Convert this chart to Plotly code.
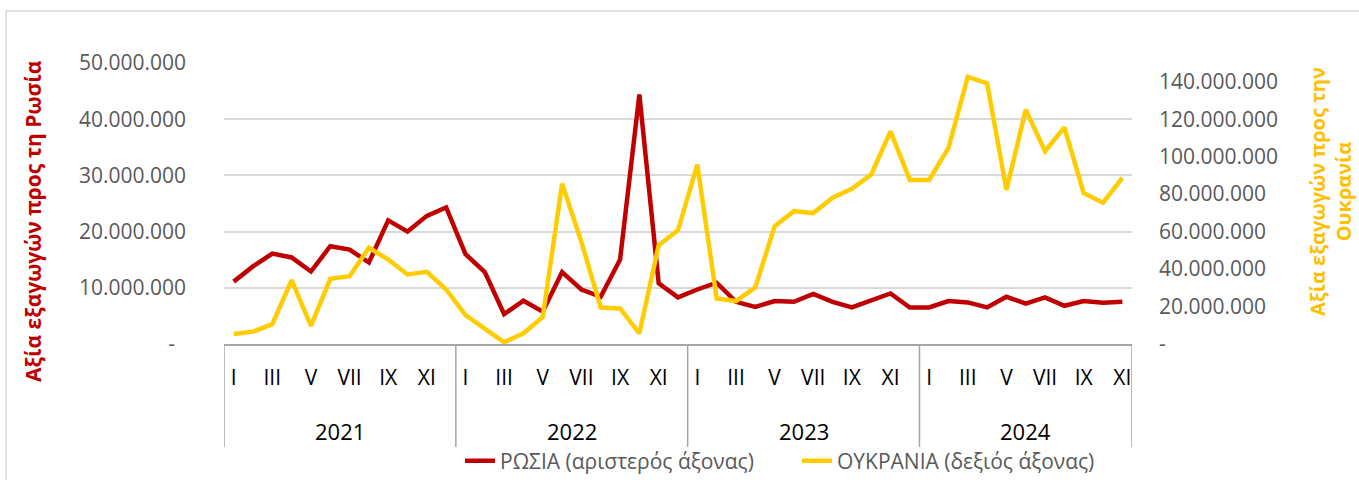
import plotly.graph_objects as go

# ---------------- data ----------------
years = ["2021", "2022", "2023", "2024"]
months_per_year = [12, 12, 12, 11]
month_names = ["I", "II", "III", "IV", "V", "VI", "VII", "VIII", "IX", "X", "XI", "XII"]

# Exports to Russia (EUR), left axis
russia = [11.1, 13.8, 16.1, 15.4, 12.9, 17.4, 16.8, 14.5, 22.0, 20.0, 22.8, 24.3,
          16.0, 12.8, 5.3, 7.7, 5.75, 12.8, 9.7, 8.4, 15.0, 44.4, 10.8, 8.3,
          9.7, 10.9, 7.5, 6.6, 7.65, 7.5, 8.9, 7.5, 6.5, 7.7, 9.0, 6.5,
          6.5, 7.65, 7.4, 6.5, 8.4, 7.2, 8.3, 6.8, 7.65, 7.35, 7.5]
# Exports to Ukraine (EUR), right axis
ukraine = [5.3, 6.6, 10.6, 34.1, 9.7, 34.8, 36.2, 51.4, 45.1, 37.1, 38.5, 29.1,
           15.4, 8.2, 0.9, 5.7, 14.5, 85.5, 54.5, 19.5, 19.0, 5.7, 52.7, 60.7,
           95.8, 24.3, 22.9, 30.2, 62.8, 70.9, 69.9, 78.1, 82.8, 90.5, 113.5, 87.6,
           87.6, 104.7, 142.6, 139.1, 82.3, 125.1, 102.9, 115.6, 80.5, 75.4, 88.7]
russia = [v * 1e6 for v in russia]
ukraine = [v * 1e6 for v in ukraine]

left_ticks = [0, 10e6, 20e6, 30e6, 40e6, 50e6]
right_ticks = [0, 20e6, 40e6, 60e6, 80e6, 100e6, 120e6, 140e6]

def fmt(v):
    if v == 0:
        return "-"
    return f"{int(v):,}".replace(",", ".")

# ---------------- x structure ----------------
x = list(range(len(russia)))
tick_idx, tick_txt = [], []
year_centers, boundaries = [], [-0.5]
i = 0
for yr, n in zip(years, months_per_year):
    start = i
    for m in range(n):
        if m % 2 == 0:
            tick_idx.append(i)
            tick_txt.append(month_names[m])
        i += 1
    year_centers.append(start + n / 2 - 0.5)
    boundaries.append(i - 0.5)

RED = "#C00000"
YEL = "#FFCC00"
FONT = "Open Sans"

fig = go.Figure()
fig.add_trace(go.Scatter(x=x, y=russia, mode="lines", name="ΡΩΣΙΑ (αριστερός άξονας)",
                         line=dict(color=RED, width=4.5), yaxis="y"))
fig.add_trace(go.Scatter(x=x, y=ukraine, mode="lines", name="ΟΥΚΡΑΝΙΑ (δεξιός άξονας)",
                         line=dict(color=YEL, width=4.5), yaxis="y2"))

W, H = 1359, 480
L, R, T, B = 224, 1132, 63, 344
pw, ph = R - L, B - T

def px2x(p):
    return (p - L) / pw

def px2y(p):
    return (B - p) / ph

shapes = []
for b in boundaries:
    shapes.append(dict(type="line", xref="x", yref="paper", x0=b, x1=b,
                       y0=0, y1=px2y(447), line=dict(color="#A6A6A6", width=1.5)))
shapes.append(dict(type="rect", xref="paper", yref="paper",
                   x0=px2x(6), x1=px2x(1375), y0=px2y(500), y1=px2y(11),
                   line=dict(color="#D9D9D9", width=1.5), layer="below"))

annotations = []
for yr, c in zip(years, year_centers):
    annotations.append(dict(x=c, y=px2y(431), xref="x", yref="paper", text=yr,
                            showarrow=False, xanchor="center", yanchor="middle",
                            font=dict(family=FONT, size=22, color="#000000")))
annotations.append(dict(x=px2x(33), y=px2y(221), xref="paper", yref="paper",
                        text="<b>Αξία εξαγωγών προς τη Ρωσία</b>", textangle=-90,
                        showarrow=False, xanchor="center", yanchor="middle",
                        font=dict(family=FONT, size=21, color=RED)))
annotations.append(dict(x=px2x(1330), y=px2y(192), xref="paper", yref="paper",
                        text="<b>Αξία εξαγωγών προς την<br>Ουκρανία</b>", textangle=-90,
                        showarrow=False, xanchor="center", yanchor="middle",
                        font=dict(family=FONT, size=20, color="#FFC000")))

fig.update_layout(
    width=W, height=H,
    margin=dict(l=L, r=W - R, t=T, b=H - B, autoexpand=False),
    paper_bgcolor="white", plot_bgcolor="white",
    font=dict(family=FONT, color="#595959"),
    showlegend=True,
    legend=dict(orientation="h", x=px2x(460), y=px2y(461), xanchor="left", yanchor="middle",
                entrywidth=292, entrywidthmode="pixels",
                font=dict(family=FONT, size=21, color="#595959"), bgcolor="rgba(0,0,0,0)"),
    xaxis=dict(range=[-0.5, len(russia) - 0.5], tickmode="array", tickvals=tick_idx,
               ticktext=tick_txt, showgrid=False, zeroline=False, showline=True,
               linecolor="#A6A6A6", linewidth=1.5, ticks="",
               tickfont=dict(family=FONT, size=21, color="#000000"), ticklabelstandoff=14),
    yaxis=dict(range=[0, 50e6], tickmode="array", tickvals=left_ticks,
               ticktext=[fmt(v) + ("\u00a0\u00a0" if v == 0 else "") for v in left_ticks],
               showgrid=True, gridcolor="#D9D9D9", gridwidth=1.5, zeroline=False,
               showline=False, ticks="", ticklabelstandoff=37,
               tickfont=dict(family=FONT, size=21, color="#595959")),
    yaxis2=dict(range=[0, 150e6], overlaying="y", side="right", tickmode="array",
                tickvals=right_ticks, ticktext=[fmt(v) for v in right_ticks],
                showgrid=False, zeroline=False, showline=False, ticks="",
                ticklabelstandoff=26,
                tickfont=dict(family=FONT, size=21, color="#595959")),
    shapes=shapes,
    annotations=annotations,
)

fig.write_html("out.html", config={"displayModeBar": False},
               post_script="document.body.style.margin='0';document.body.style.overflow='hidden';")
